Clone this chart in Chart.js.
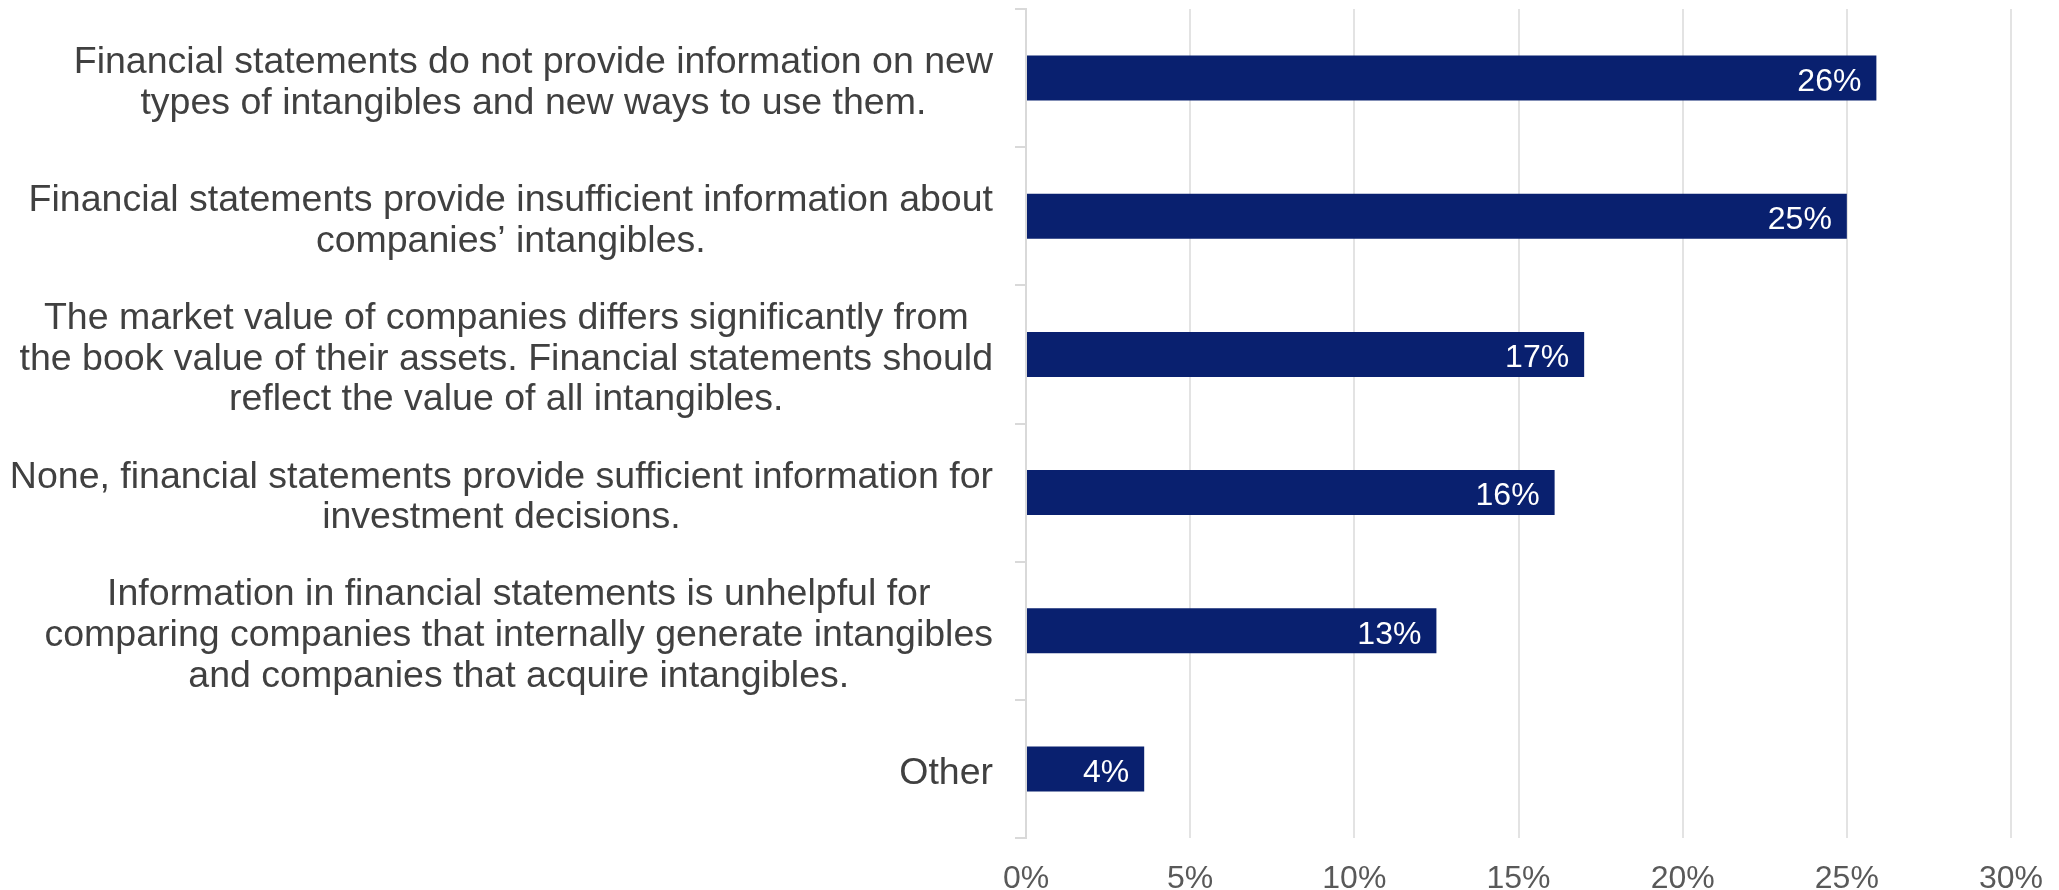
<!DOCTYPE html>
<html>
<head>
<meta charset="utf-8">
<script src="https://cdn.jsdelivr.net/npm/chart.js@4/dist/chart.umd.min.js"></script>
<style>
  html, body { margin: 0; padding: 0; background: #fff; }
  #wrap { width: 2059px; height: 890px; }
</style>
</head>
<body>
<div id="wrap"><canvas id="chart"></canvas></div>
<script>
// categories (line breaks as wrapped in the original)
const categories = [
  ['Financial statements do not provide information on new', 'types of intangibles and new ways to use them.'],
  ['Financial statements provide insufficient information about', 'companies\u2019 intangibles.'],
  ['The market value of companies differs significantly from', 'the book value of their assets. Financial statements should', 'reflect the value of all intangibles.'],
  ['None, financial statements provide sufficient information for', 'investment decisions.'],
  ['Information in financial statements is unhelpful for', 'comparing companies that internally generate intangibles', 'and companies that acquire intangibles.'],
  ['Other']
];
const shares = [25.9, 25.0, 17.0, 16.1, 12.5, 3.6];
const xTickValues = [0, 5, 10, 15, 20, 25, 30];

const FONT = '"Liberation Sans", Arial, sans-serif';

// draws the category labels: each block centred on itself, blocks right-aligned
const categoryLabels = {
  id: 'categoryLabels',
  afterDraw(chart) {
    const ctx = chart.ctx;
    const y = chart.scales.y;
    const size = 37.5, lineH = 40.7;
    const right = y.right - 33;
    ctx.save();
    ctx.font = size + 'px ' + FONT;
    ctx.fillStyle = '#404040';
    ctx.textAlign = 'center';
    ctx.textBaseline = 'middle';
    categories.forEach((lines, i) => {
      const cy = y.getPixelForValue(i) + 5;
      const widest = Math.max(...lines.map(l => ctx.measureText(l).width));
      const cx = right - widest / 2;
      lines.forEach((l, j) => {
        ctx.fillText(l, cx, cy + (j - (lines.length - 1) / 2) * lineH);
      });
    });
    ctx.restore();
  }
};

// value labels inside the bar end
const barLabels = {
  id: 'barLabels',
  afterDatasetsDraw(chart) {
    const ctx = chart.ctx;
    const meta = chart.getDatasetMeta(0);
    ctx.save();
    ctx.font = '32px ' + FONT;
    ctx.fillStyle = '#ffffff';
    ctx.textAlign = 'right';
    ctx.textBaseline = 'middle';
    meta.data.forEach((bar, i) => {
      ctx.fillText(Math.round(shares[i]) + '%', bar.x - 15, bar.y + 4);
    });
    ctx.restore();
  }
};

new Chart(document.getElementById('chart'), {
  type: 'bar',
  data: {
    labels: categories,
    datasets: [{
      data: shares,
      backgroundColor: '#09206F',
      categoryPercentage: 1,
      barPercentage: 0.326
    }]
  },
  options: {
    indexAxis: 'y',
    responsive: true,
    maintainAspectRatio: false,
    animation: false,
    layout: { padding: { top: 9, right: 48, bottom: 0, left: 0 } },
    plugins: {
      legend: { display: false },
      tooltip: { enabled: false }
    },
    scales: {
      x: {
        min: 0,
        max: 30,
        afterBuildTicks: (scale) => { scale.ticks = xTickValues.map(v => ({ value: v })); },
        afterFit: (scale) => {
          scale.height = 52;
          scale.paddingLeft = 0;
          scale.paddingRight = 0;
        },
        border: { display: false },
        grid: { color: '#e3e3e3', lineWidth: 2, drawTicks: false },
        ticks: {
          padding: 22,
          color: '#595959',
          font: { family: FONT, size: 32 },
          callback: (v) => v + '%'
        }
      },
      y: {
        afterFit: (scale) => { scale.width = 1026; },
        border: { display: true, color: '#d9d9d9', width: 2 },
        grid: { offset: true, drawOnChartArea: false, drawTicks: true, tickLength: 11, color: '#d9d9d9', lineWidth: 2 },
        ticks: { display: false }
      }
    }
  },
  plugins: [categoryLabels, barLabels]
});
</script>
</body>
</html>
